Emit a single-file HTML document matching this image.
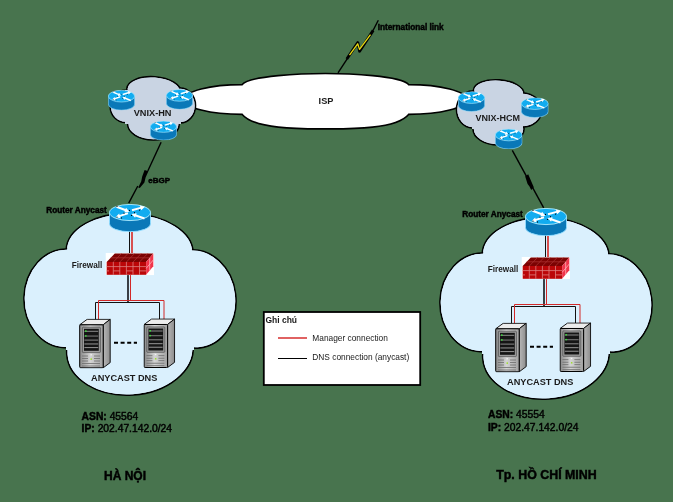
<!DOCTYPE html>
<html><head><meta charset="utf-8">
<style>
html,body{margin:0;padding:0;background:#48744e;}
body{width:673px;height:502px;overflow:hidden;}
svg{display:block;will-change:transform;}
text{font-family:"Liberation Sans",sans-serif;}
.b{font-weight:bold;}
.h{stroke:#000;stroke-width:0.45px;}
</style></head>
<body>
<svg width="673" height="502" viewBox="0 0 673 502">
<defs>
  <symbol id="router" viewBox="0 0 42 27" preserveAspectRatio="none">
    <path d="M0.5,8.2 L0.5,18.8 A20.5,8 0 0 0 41.5,18.8 L41.5,8.2 Z" fill="#0a78b8" stroke="#8fdcff" stroke-width="0.9"/>
    <ellipse cx="21" cy="8.2" rx="20.5" ry="7.8" fill="#12acf0" stroke="#b0ecff" stroke-width="0.9"/>
    <g fill="#ffffff">
      <path d="M7.2,3.5 L15.8,6.7 L15.4,8.1 L20.5,7.4 L17.0,3.6 L16.5,4.9 L7.8,1.7 Z"/>
      <path d="M35.8,13.1 L27.2,10.1 L27.6,8.8 L22.5,9.6 L26.1,13.3 L26.5,12.0 L35.2,14.9 Z"/>
      <path d="M18.7,8.0 L10.6,10.5 L10.2,9.2 L6.5,12.8 L11.6,13.8 L11.2,12.4 L19.3,10.0 Z"/>
      <path d="M23.3,7.0 L31.8,4.7 L32.2,6.1 L36.0,2.6 L30.9,1.4 L31.3,2.8 L22.7,5.0 Z"/>
    </g>
    <g fill="#000">
      <circle cx="8" cy="2.4" r="0.6"/><circle cx="15" cy="8.8" r="0.6"/>
      <circle cx="20.5" cy="6.2" r="0.6"/><circle cx="25.5" cy="8.4" r="0.6"/>
      <circle cx="12.5" cy="13.4" r="0.6"/><circle cx="8" cy="12.6" r="0.6"/>
      <circle cx="30.5" cy="5.8" r="0.6"/><circle cx="22.5" cy="11" r="0.6"/>
    </g>
  </symbol>
  <symbol id="server" viewBox="0 0 32 50" preserveAspectRatio="none">
    <linearGradient id="sf" x1="0" x2="1" y1="0" y2="0">
      <stop offset="0" stop-color="#8a8a8a"/><stop offset="0.45" stop-color="#d4d4d4"/><stop offset="1" stop-color="#a0a0a0"/>
    </linearGradient>
    <linearGradient id="ss" x1="0" x2="1" y1="0" y2="0">
      <stop offset="0" stop-color="#b8b8b8"/><stop offset="1" stop-color="#8c8c8c"/>
    </linearGradient>
    <polygon points="0.7,6.2 8.2,0.7 31.2,0.7 24.2,6.2" fill="#ececec" stroke="#000" stroke-width="0.9" stroke-linejoin="round"/>
    <polygon points="24.2,6.2 31.2,0.7 31.2,44 24.2,49.2" fill="url(#ss)" stroke="#000" stroke-width="0.9" stroke-linejoin="round"/>
    <rect x="0.7" y="6.2" width="23.5" height="43" rx="1" fill="url(#sf)" stroke="#000" stroke-width="1"/>
    <rect x="3.4" y="8.6" width="18" height="25.4" rx="0.8" fill="#9c9c9c" stroke="#3a3a3a" stroke-width="0.6"/>
    <rect x="5" y="10.2" width="14.8" height="22" fill="#151515"/>
    <g fill="#8a8a8a">
      <rect x="5.4" y="12.2" width="13.8" height="1"/>
      <rect x="5.4" y="17" width="13.8" height="0.9"/>
      <rect x="5.4" y="21" width="13.8" height="1"/>
      <rect x="5.4" y="24.8" width="13.8" height="1.1"/>
      <rect x="5.4" y="28.4" width="13.8" height="1.1"/>
    </g>
    <rect x="6" y="11.8" width="1.6" height="1.4" fill="#3adf3a"/>
    <rect x="6" y="16.6" width="1.6" height="1.4" fill="#3adf3a"/>
    <g fill="#6c6c6c">
      <rect x="3" y="37" width="6" height="0.8"/><rect x="15" y="37" width="6" height="0.8"/>
      <rect x="3" y="39.5" width="6" height="0.8"/><rect x="15" y="39.5" width="6" height="0.8"/>
      <rect x="3" y="42" width="6" height="0.8"/><rect x="15" y="42" width="6" height="0.8"/>
      <rect x="3" y="44.5" width="18" height="0.8"/><rect x="3" y="47" width="18" height="0.8"/>
    </g>
    <rect x="11.5" y="35.6" width="1.4" height="1.2" fill="#f4f4f4"/>
    <rect x="11.5" y="39.8" width="1.5" height="1.4" fill="#9adf20"/>
  </symbol>
  <symbol id="firewall" viewBox="0 0 48.5 22.3" preserveAspectRatio="none">
    <rect x="0" y="0" width="48.5" height="22.3" fill="#ffffff"/>
    <polygon points="1.2,9 9.3,0.5 47.8,0.5 40.6,9" fill="#7c0202"/>
    <rect x="1.2" y="9" width="39.4" height="12.8" fill="#bb0608"/>
    <polygon points="40.6,9 47.8,0.5 47.8,13.2 40.6,21.8" fill="#f0344a"/>
    <g fill="none" stroke-width="0.8">
      <path d="M7.8,9 V21.8 M14.3,9 V21.8 M20.9,9 V21.8 M27.5,9 V21.8 M34,9 V21.8" stroke="#dd8080"/>
      <path d="M1.2,13.6 H40.6" stroke="#dd8080"/>
      <path d="M7.8,17.9 H14.3 M20.9,17.9 H27.5 M34,17.9 H40.6 M1.2,17.9 H3.5" stroke="#dd8080"/>
      <path d="M5.3,4.8 H44.2" stroke="#a83030"/>
      <path d="M7.8,9 L16,0.5 M14.3,9 L22.5,0.5 M20.9,9 L29.1,0.5 M27.5,9 L35.7,0.5 M34,9 L42.2,0.5" stroke="#a83030"/>
      <path d="M40.6,15.4 L47.8,7" stroke="#ffb0b8"/>
      <path d="M44.2,4.8 V17.6" stroke="#ffb0b8"/>
    </g>
  </symbol>
</defs>

<!-- ISP cloud -->
<path d="M242.2,84.6 C249.8,75.4 303.2,73.5 325.4,73.5 C347.6,73.5 401,75.4 408.6,84.6 A58,14.9 0 0 1 466.6,99.5 A58,14.9 0 0 1 408.6,114.4 C395.8,129.8 346.1,128.9 325.4,128.9 C304.7,128.9 255,129.8 242.2,114.4 A58,14.9 0 0 1 184.2,99.5 A58,14.9 0 0 1 242.2,84.6 Z" fill="#fff" stroke="#000" stroke-width="1.6" stroke-linejoin="miter"/>
<text class="b" x="318.6" y="104" font-size="9.6" textLength="14.8" lengthAdjust="spacingAndGlyphs" fill="#1a1a1a">ISP</text>

<!-- VNIX-HN cloud -->
<g fill="#c9d4e3" stroke="#000" stroke-width="1.6"><ellipse cx="153.92" cy="90.7" rx="27.16" ry="13.98" transform="rotate(4.29 153.92 90.7)"/><ellipse cx="125.43" cy="106.4" rx="15.2" ry="16.1" transform="rotate(0 125.43 106.4)"/><ellipse cx="180" cy="105.5" rx="15.5" ry="17.5" transform="rotate(0 180 105.5)"/><ellipse cx="153.43" cy="124.27" rx="25.77" ry="15.73" transform="rotate(0.44 153.43 124.27)"/></g>
<g fill="#c9d4e3"><ellipse cx="153.92" cy="90.7" rx="26.36" ry="13.18" transform="rotate(4.29 153.92 90.7)"/><ellipse cx="125.43" cy="106.4" rx="14.40" ry="15.30" transform="rotate(0 125.43 106.4)"/><ellipse cx="180" cy="105.5" rx="14.70" ry="16.70" transform="rotate(0 180 105.5)"/><ellipse cx="153.43" cy="124.27" rx="24.97" ry="14.93" transform="rotate(0.44 153.43 124.27)"/><rect x="125" y="90" width="56" height="34"/></g>
<text class="b" x="133.7" y="116.4" font-size="9.2" fill="#1a1a1a">VNIX-HN</text>

<!-- VNIX-HCM cloud -->
<g fill="#c9d4e3" stroke="#000" stroke-width="1.6"><ellipse cx="498.66" cy="92.18" rx="25.33" ry="12.34" transform="rotate(4.38 498.66 92.18)"/><ellipse cx="472.5" cy="109.5" rx="16" ry="18.5" transform="rotate(0 472.5 109.5)"/><ellipse cx="522" cy="110" rx="20" ry="17" transform="rotate(0 522 110)"/><ellipse cx="498.5" cy="129" rx="25.5" ry="16" transform="rotate(0 498.5 129)"/></g>
<g fill="#c9d4e3"><ellipse cx="498.66" cy="92.18" rx="24.53" ry="11.54" transform="rotate(4.38 498.66 92.18)"/><ellipse cx="472.5" cy="109.5" rx="15.20" ry="17.70" transform="rotate(0 472.5 109.5)"/><ellipse cx="522" cy="110" rx="19.20" ry="16.20" transform="rotate(0 522 110)"/><ellipse cx="498.5" cy="129" rx="24.70" ry="15.20" transform="rotate(0 498.5 129)"/><rect x="472" y="92" width="51" height="37"/></g>
<text class="b" x="475.4" y="120.6" font-size="9" fill="#1a1a1a">VNIX-HCM</text>

<!-- routers in VNIX -->
<use href="#router" x="108" y="90" width="27" height="20.3"/>
<use href="#router" x="166" y="89.2" width="27" height="20.3"/>
<use href="#router" x="150" y="120.8" width="27" height="19.5"/>
<use href="#router" x="458" y="91.4" width="27" height="20.3"/>
<use href="#router" x="521" y="97.4" width="27.6" height="20.3"/>
<use href="#router" x="495" y="128.8" width="27.5" height="20.3"/>

<!-- international link -->
<polyline points="338,72.8 347.5,58.3" fill="none" stroke="#000" stroke-width="1.4"/>
<polyline points="372.5,31.5 378.3,20.3" fill="none" stroke="#000" stroke-width="1.4"/>
<polyline points="346.8,59 357.8,42.6 359.6,51.2 373.2,30.4" fill="none" stroke="#000" stroke-width="2.9" stroke-linejoin="round"/>
<polyline points="349.5,55.2 357.7,43.8 359.5,49.4 370.5,34.6" fill="none" stroke="#e8dc12" stroke-width="1.3" stroke-linejoin="round"/>
<text class="b h" x="377.7" y="29.9" font-size="8.25" fill="#000">International link</text>

<!-- link left -->
<polyline points="161.1,142.2 147.8,171" fill="none" stroke="#000" stroke-width="1.4"/>
<polyline points="137.8,186 128.7,203.2" fill="none" stroke="#000" stroke-width="1.4"/>
<polygon points="144.6,170 148.4,171.2 145.6,177.5 144.4,182.5 139.8,188 138.2,187.5 141.2,181.5 142.2,176.5" fill="#000"/>
<text class="b h" x="148.3" y="182.7" font-size="8" fill="#000">eBGP</text>

<!-- link right -->
<polyline points="512.3,150.3 543.7,207.8" fill="none" stroke="#000" stroke-width="1.4"/>
<polygon points="525.2,176.5 528.2,174.2 533.8,187.2 531.2,190 529.5,186.5 527.6,184" fill="#000"/>

<!-- left site group -->
<g id="site">
  <g fill="#daf0fd" stroke="#000" stroke-width="1.6"><ellipse cx="129.63" cy="251.59" rx="63.43" ry="38.17" transform="rotate(1.63 129.63 251.59)"/><ellipse cx="66" cy="298.33" rx="42.05" ry="49.4" transform="rotate(1.81 66 298.33)"/><ellipse cx="194.16" cy="298.97" rx="41.74" ry="49.24" transform="rotate(-6.81 194.16 298.97)"/><ellipse cx="129.96" cy="350.02" rx="63.37" ry="45.05" transform="rotate(-3.85 129.96 350.02)"/></g>
  <g fill="#daf0fd"><ellipse cx="129.63" cy="251.59" rx="62.63" ry="37.37" transform="rotate(1.63 129.63 251.59)"/><ellipse cx="66" cy="298.33" rx="41.25" ry="48.60" transform="rotate(1.81 66 298.33)"/><ellipse cx="194.16" cy="298.97" rx="40.94" ry="48.44" transform="rotate(-6.81 194.16 298.97)"/><ellipse cx="129.96" cy="350.02" rx="62.57" ry="44.25" transform="rotate(-3.85 129.96 350.02)"/><rect x="66" y="252" width="128" height="98"/></g>
  <!-- connections -->
  <g fill="none">
    <path d="M129.5,231 V254" stroke="#111" stroke-width="1"/>
    <path d="M132,232 V254" stroke="#d85050" stroke-width="2"/>
    <path d="M128,274 V302.5" stroke="#3a3f45" stroke-width="2"/>
    <path d="M95.5,320 V302.5 H159.5 V320" stroke="#111" stroke-width="1"/>
    <path d="M130.5,274 V300.5 M98.5,320 V300.5 H164 V320" stroke="#d22828" stroke-width="1"/>
  </g>
  <use href="#router" x="109" y="204" width="42" height="28"/>
  <use href="#firewall" x="105.5" y="253" width="48.5" height="22.3"/>
  <use href="#server" x="79" y="318.6" width="32" height="50"/>
  <use href="#server" x="143.4" y="318.3" width="32" height="50"/>
  <path d="M114,342.8 H137" stroke="#000" stroke-width="2" stroke-dasharray="4,2.6"/>
  <text class="b h" x="46.2" y="212.8" font-size="8.25" fill="#000">Router Anycast</text>
  <text class="b" x="71.8" y="267.8" font-size="8.2" fill="#1a1a1a">Firewall</text>
  <text class="b" x="91" y="380.8" font-size="9.2" fill="#1a1a1a">ANYCAST DNS</text>
</g>
<use href="#site" x="416" y="4"/>

<!-- legend -->
<rect x="263.8" y="312" width="156.4" height="73" fill="#fff" stroke="#000" stroke-width="1.8"/>
<text class="b" x="265.4" y="322.5" font-size="8.5" fill="#1a1a1a">Ghi chú</text>
<line x1="278" y1="338" x2="307" y2="338" stroke="#e06262" stroke-width="2"/>
<line x1="278" y1="358.5" x2="307" y2="358.5" stroke="#000" stroke-width="1"/>
<text x="312.3" y="340.7" font-size="8.35" fill="#1a1a1a">Manager connection</text>
<text x="312.3" y="360.2" font-size="8.35" fill="#1a1a1a">DNS connection (anycast)</text>

<!-- ASN text -->
<text x="81.6" y="419.6" font-size="10.3" fill="#000" class="h"><tspan class="b">ASN:</tspan> 45564</text>
<text x="81.6" y="432.1" font-size="10.3" fill="#000" class="h"><tspan class="b">IP:</tspan> 202.47.142.0/24</text>
<text x="488" y="418.3" font-size="10.3" fill="#000" class="h"><tspan class="b">ASN:</tspan> 45554</text>
<text x="488" y="431" font-size="10.3" fill="#000" class="h"><tspan class="b">IP:</tspan> 202.47.142.0/24</text>

<text class="b h" x="104" y="479.7" font-size="12" fill="#000">HÀ NỘI</text>
<text class="b h" x="496.2" y="478.6" font-size="12.4" fill="#000">Tp. HỒ CHÍ MINH</text>
</svg>
</body></html>
